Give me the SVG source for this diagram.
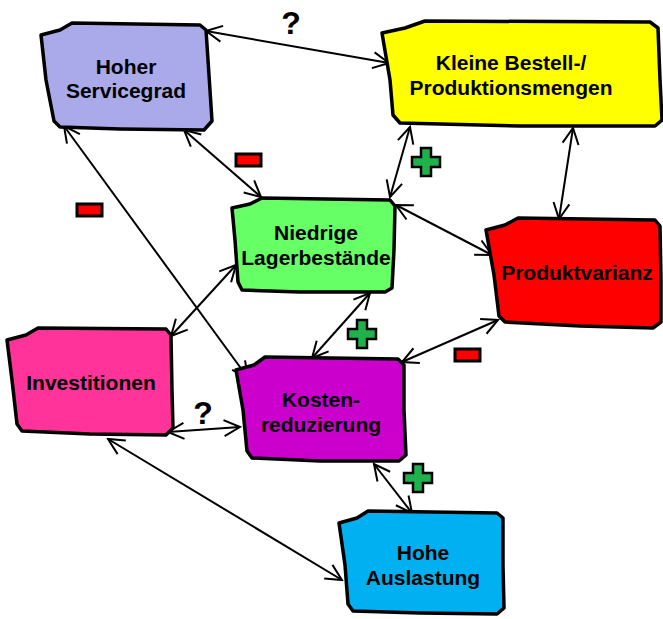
<svg xmlns="http://www.w3.org/2000/svg" width="663" height="619" viewBox="0 0 663 619">
<defs>
<style>
.node{stroke:#000;stroke-width:3.5;stroke-linejoin:round}
.lbl{font-family:"Liberation Sans",Arial,sans-serif;font-weight:bold;font-size:21px;fill:#000;text-anchor:middle}
.conn{stroke:#000;stroke-width:2;fill:none;marker-start:url(#ah);marker-end:url(#ah)}
.minus{fill:#ff0000;stroke:#000;stroke-width:3}
.plus{fill:#1fb14c;stroke:#000;stroke-width:2.5;stroke-linejoin:miter}
.q{font-family:"Liberation Sans",Arial,sans-serif;font-weight:bold;font-size:32px;fill:#000;text-anchor:middle}
</style>
<marker id="ah" viewBox="0 0 20 20" refX="18" refY="10" markerWidth="20" markerHeight="20" markerUnits="userSpaceOnUse" orient="auto-start-reverse">
<path d="M2,2 L18,10 L2,18" fill="none" stroke="#000" stroke-width="2"/>
</marker>
</defs>
<g id="connectors">
<line class="conn" x1="206" y1="31" x2="389" y2="63"/>
<line class="conn" x1="184" y1="130" x2="261" y2="197"/>
<line class="conn" x1="64" y1="126" x2="248" y2="378"/>
<line class="conn" x1="410" y1="127" x2="390" y2="197"/>
<line class="conn" x1="573" y1="128" x2="559" y2="219"/>
<line class="conn" x1="396" y1="205" x2="492" y2="255"/>
<line class="conn" x1="236" y1="265" x2="171" y2="336"/>
<line class="conn" x1="370" y1="293" x2="312" y2="358"/>
<line class="conn" x1="498" y1="320" x2="402" y2="362"/>
<line class="conn" x1="168" y1="432" x2="240" y2="427"/>
<line class="conn" x1="374" y1="464" x2="412" y2="513"/>
<line class="conn" x1="108" y1="439" x2="342" y2="580"/>
</g>
<g id="signs">
<text class="q" x="291" y="34">?</text>
<rect class="minus" x="236" y="154" width="25" height="12"/>
<rect class="minus" x="77" y="204" width="25" height="12"/>
<path class="plus" d="M421,148 h10 v9 h9 v10 h-9 v9 h-10 v-9 h-9 v-10 h9 z"/>
<path class="plus" d="M357,320 h10 v9 h9 v10 h-9 v9 h-10 v-9 h-9 v-10 h9 z"/>
<rect class="minus" x="455" y="349" width="25" height="12"/>
<text class="q" x="203" y="424">?</text>
<path class="plus" d="M413,464 h10 v9 h9 v10 h-9 v9 h-10 v-9 h-9 v-10 h9 z"/>
</g>
<g id="hoher-servicegrad">
<path class="node" fill="#aaaaea" d="M41,35 L60,30 L72,23 L200,25 L206,30 L209,75 L212,121 L204,130 L120,129 L60,127 L54,121 L46,80 Z"/>
<text class="lbl" x="126" y="74">Hoher</text>
<text class="lbl" x="126" y="98">Servicegrad</text>
</g>
<g id="kleine-bestell">
<path class="node" fill="#ffff00" d="M382,33 L405,28 L425,21 L650,22 L658,28 L660,80 L662,120 L655,126 L520,126 L400,123 L393,115 L390,80 Z"/>
<text class="lbl" x="511" y="70">Kleine Bestell-/</text>
<text class="lbl" x="511" y="95">Produktionsmengen</text>
</g>
<g id="niedrige-lagerbestaende">
<path class="node" fill="#66ff66" d="M232,208 L250,204 L262,198 L390,200 L395,206 L394,250 L392,288 L385,292 L300,292 L242,290 L238,282 L235,240 Z"/>
<text class="lbl" x="316" y="240">Niedrige</text>
<text class="lbl" x="316" y="265">Lagerbestände</text>
</g>
<g id="produktvarianz">
<path class="node" fill="#ff0000" d="M486,230 L505,225 L518,218 L655,220 L660,226 L661,280 L661,322 L653,328 L580,326 L505,322 L499,316 L494,275 Z"/>
<text class="lbl" x="577" y="280">Produktvarianz</text>
</g>
<g id="investitionen">
<path class="node" fill="#ff3399" d="M7,340 L26,335 L38,328 L166,329 L171,335 L172,390 L173,428 L166,435 L90,434 L22,431 L17,424 L12,380 Z"/>
<text class="lbl" x="91" y="390">Investitionen</text>
</g>
<g id="kostenreduzierung">
<path class="node" fill="#cc00cc" d="M236,370 L254,365 L265,357 L398,359 L404,365 L404,410 L406,455 L399,461 L320,461 L252,458 L247,451 L243,410 Z"/>
<text class="lbl" x="321" y="407">Kosten-</text>
<text class="lbl" x="321" y="432">reduzierung</text>
</g>
<g id="hohe-auslastung">
<path class="node" fill="#00b0f0" d="M339,523 L357,518 L368,511 L497,513 L503,518 L503,565 L504,608 L497,614 L420,613 L353,611 L348,604 L345,565 Z"/>
<text class="lbl" x="423" y="560">Hohe</text>
<text class="lbl" x="423" y="585">Auslastung</text>
</g>
</svg>
